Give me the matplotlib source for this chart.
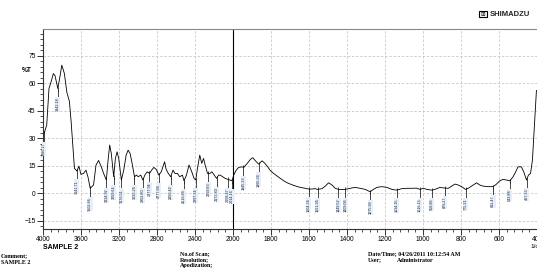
import numpy as np
import matplotlib.pyplot as plt
from matplotlib.ticker import FixedLocator, NullFormatter
from matplotlib.patches import Rectangle

# スペクトルデータ (波数 1/cm, %T)
wn = [4000, 3989, 3961, 3937, 3915, 3891, 3873, 3844, 3820, 3802, 3775, 3749, 3722,
      3704, 3686, 3669, 3643, 3622, 3601, 3574, 3548, 3527, 3503, 3468, 3442, 3415,
      3386, 3362, 3333, 3315, 3298, 3281, 3256, 3238, 3220, 3203, 3175, 3150, 3125,
      3104, 3083, 3062, 3037, 3016, 2998, 2971, 2949, 2928, 2903, 2879, 2857, 2833,
      2808, 2780, 2755, 2720, 2704, 2681, 2656, 2632, 2611, 2585, 2561, 2532, 2516,
      2490, 2463, 2434, 2410, 2392, 2374, 2350, 2329, 2310, 2293, 2268, 2244, 2222,
      2198, 2173, 2152, 2135, 2109, 2082, 2056, 2032, 2011, 1996, 1983, 1970, 1952,
      1943, 1925, 1908, 1896, 1882, 1865, 1847, 1835, 1820, 1803, 1786, 1768, 1751,
      1733, 1715, 1698, 1681, 1663, 1646, 1619, 1602, 1584, 1567, 1555, 1532, 1514,
      1497, 1479, 1462, 1445, 1436, 1409, 1383, 1357, 1331, 1304, 1278, 1261, 1243,
      1217, 1190, 1164, 1138, 1112, 1085, 1059, 1033, 1016, 998, 980, 954, 937, 911,
      884, 867, 849, 832, 815, 797, 776, 762, 744, 718, 701, 684, 657, 631, 613, 596,
      578, 560, 543, 526, 512, 500, 482, 470, 455, 445, 434, 424, 416, 407, 403]
tr = [30.7, 32.5, 37.0, 57.0, 60.7, 65.2, 64.0, 57.0, 64.0, 69.8, 65.2, 55.0, 50.0,
      39.0, 26.0, 13.5, 12.0, 14.7, 10.2, 10.7, 12.5, 8.9, 2.6, 4.4, 15.3, 17.8,
      14.3, 10.7, 7.1, 18.0, 26.2, 21.6, 8.9, 18.9, 22.5, 18.9, 7.1, 12.5, 20.7,
      23.4, 21.6, 16.2, 8.9, 9.8, 8.9, 9.8, 7.1, 9.8, 11.6, 10.7, 12.5, 14.0,
      12.9, 9.8, 11.6, 17.1, 13.0, 10.7, 8.9, 12.5, 10.7, 10.7, 8.9, 9.8, 6.7,
      9.8, 15.3, 11.6, 8.0, 7.1, 13.5, 20.7, 16.2, 18.9, 15.3, 10.7, 10.7, 11.6,
      9.8, 8.0, 9.8, 9.8, 8.9, 8.0, 7.5, 7.1, 6.7, 9.8, 12.5, 14.0, 14.3,
      14.0, 16.2, 18.4, 19.3, 17.6, 15.8, 17.6, 16.5, 14.7, 12.2, 10.7, 9.3, 8.0,
      6.7, 5.6, 4.9, 4.2, 3.6, 3.1, 2.6, 2.2, 2.2, 2.4, 2.0, 2.4, 3.8,
      5.6, 4.4, 2.6, 2.0, 2.0, 2.0, 2.6, 3.1, 2.6, 2.0, 0.7, 2.0, 3.1,
      3.5, 3.1, 2.0, 1.6, 2.4, 2.6, 2.6, 2.7, 2.0, 2.6, 2.0, 1.6, 2.0, 3.1,
      2.7, 2.6, 3.8, 4.9, 4.4, 3.5, 2.0, 2.6, 3.8, 5.6, 4.4, 3.8, 3.5, 3.5, 4.9,
      6.7, 7.5, 7.1, 6.7, 8.9, 11.6, 14.3, 14.3, 11.6, 7.1, 9.8, 10.7, 18.0, 32.5,
      48.9, 56.0]

# ピークラベル
peak_wn = [3989, 3844, 3643, 3503, 3333, 3256, 3175, 3037, 2949, 2879, 2780, 2656,
           2516, 2392, 2259, 2173, 2056, 2011, 1945, 1865, 1602, 1555, 1445, 1409,
           1278, 1138, 1016, 954, 884, 776, 631, 543, 455]
peak_lbl = ['3986.17', '3842.18', '3641.71', '3502.86', '3334.92', '3259.64', '3176.51',
            '3032.26', '2952.80', '2877.94', '2777.86', '2656.42', '2516.89', '2397.34',
            '2259.83', '2173.80', '2058.47', '2014.16', '1945.33', '1865.34', '1604.34',
            '1551.36', '1449.52', '1409.06', '1275.99', '1134.15', '1016.15', '956.66',
            '879.27', '775.21', '632.47', '543.88', '457.33']

y_major = [-15, 0, 15, 30, 45, 60, 75]
x_major = [4000, 3600, 3200, 2800, 2400, 2000, 1800, 1600, 1400, 1200, 1000, 800, 600, 400]


def fwd(x):
    x = np.asarray(x, dtype=float)
    return np.where(x > 2000, 2000 + (x - 2000) / 2, x)


def inv(y):
    y = np.asarray(y, dtype=float)
    return np.where(y > 2000, 2000 + (y - 2000) * 2, y)


plt.rcParams['font.family'] = ['Liberation Sans', 'DejaVu Sans']
fig = plt.figure(figsize=(5.37, 2.70), dpi=100)
ax = fig.add_axes([43 / 537, 41 / 270, 494 / 537, 200 / 270])
ax.set_xscale('function', functions=(fwd, inv))
ax.set_xlim(4000, 400)
ax.set_ylim(-19.6, 89.5)

ax.plot(wn, tr, color='black', lw=0.6)
ax.axvline(2000, color='black', lw=0.8)

# ピーク
w_asc = np.array(wn[::-1])
t_asc = np.array(tr[::-1])
for p, lbl in zip(peak_wn, peak_lbl):
    yv = np.interp(p, w_asc, t_asc)
    ax.plot([p], [yv], marker='|', ms=3, mew=0.5, color='black')
    ax.plot([p, p], [yv - 0.8, yv - 4.5], color='black', lw=0.5)
    ax.text(p, yv - 4.8, lbl, rotation=90, ha='center', va='top', fontsize=2.7,
            color='#14223a',
            bbox=dict(boxstyle='square,pad=0.12', fc='#e6eff9', ec='none'))

# 軸
ax.xaxis.set_major_locator(FixedLocator(x_major))
minor_x = list(range(4000, 2000, -80)) + list(range(2000, 399, -40))
ax.xaxis.set_minor_locator(FixedLocator(minor_x))
ax.xaxis.set_minor_formatter(NullFormatter())
ax.set_xticklabels([str(v) for v in x_major])
ax.yaxis.set_major_locator(FixedLocator(y_major))
ax.yaxis.set_minor_locator(FixedLocator(list(range(-18, 90, 3))))
ax.yaxis.set_minor_formatter(NullFormatter())

ax.tick_params(axis='both', which='major', direction='out', length=4, width=0.7,
               labelsize=4.8, pad=1.2, colors='#333333', labelcolor='black')
ax.tick_params(axis='both', which='minor', direction='out', length=2.5, width=0.6,
               colors='#333333')
ax.grid(True, which='major', color='#c8c8c8', ls=(0, (3, 2)), lw=0.6)

ax.spines['right'].set_visible(False)
ax.spines['top'].set_color('#888888')
ax.spines['left'].set_color('#333333')
ax.spines['bottom'].set_color('#333333')
for s in ['top', 'left', 'bottom']:
    ax.spines[s].set_linewidth(0.8)

ax.text(-0.022, 0.795, '%T', transform=ax.transAxes, ha='right', va='center', fontsize=4.8,
        fontweight='bold')
ax.text(0.0, -0.075, 'SAMPLE 2', transform=ax.transAxes, ha='left', va='top',
        fontsize=5, fontweight='bold')
fig.text(530 / 537, 1 - 246 / 270, '1/cm', ha='left', va='center', fontsize=4.6)

# ロゴ
fig.patches.append(Rectangle((479 / 537, 1 - 17 / 270), 8 / 537, 6 / 270,
                             transform=fig.transFigure, fc='white', ec='black', lw=0.8))
fig.text(483 / 537, 1 - 14 / 270, '⊞', ha='center', va='center', fontsize=4,
         family='DejaVu Sans')
fig.text(490 / 537, 1 - 14 / 270, 'SHIMADZU', ha='left', va='center', fontsize=5.5,
         fontweight='bold', color='#222222')

# 下部の情報
serif = dict(family='Liberation Serif', fontweight='bold', fontsize=4.3, va='center')
fig.text(1 / 537, 1 - 256 / 270, 'Comment;', ha='left', **serif)
fig.text(1 / 537, 1 - 262 / 270, 'SAMPLE 2', ha='left', **serif)
fig.text(180 / 537, 1 - 254 / 270, 'No.of Scan;', ha='left', **serif)
fig.text(180 / 537, 1 - 260 / 270, 'Resolution;', ha='left', **serif)
fig.text(180 / 537, 1 - 266 / 270, 'Apodization;', ha='left', **serif)
fig.text(368 / 537, 1 - 254 / 270, 'Date/Time; 04/26/2011 10:12:54 AM', ha='left', **serif)
fig.text(368 / 537, 1 - 260 / 270, 'User;', ha='left', **serif)
fig.text(397 / 537, 1 - 260 / 270, 'Administrator', ha='left', **serif)

fig.savefig('out.png', dpi=100)
